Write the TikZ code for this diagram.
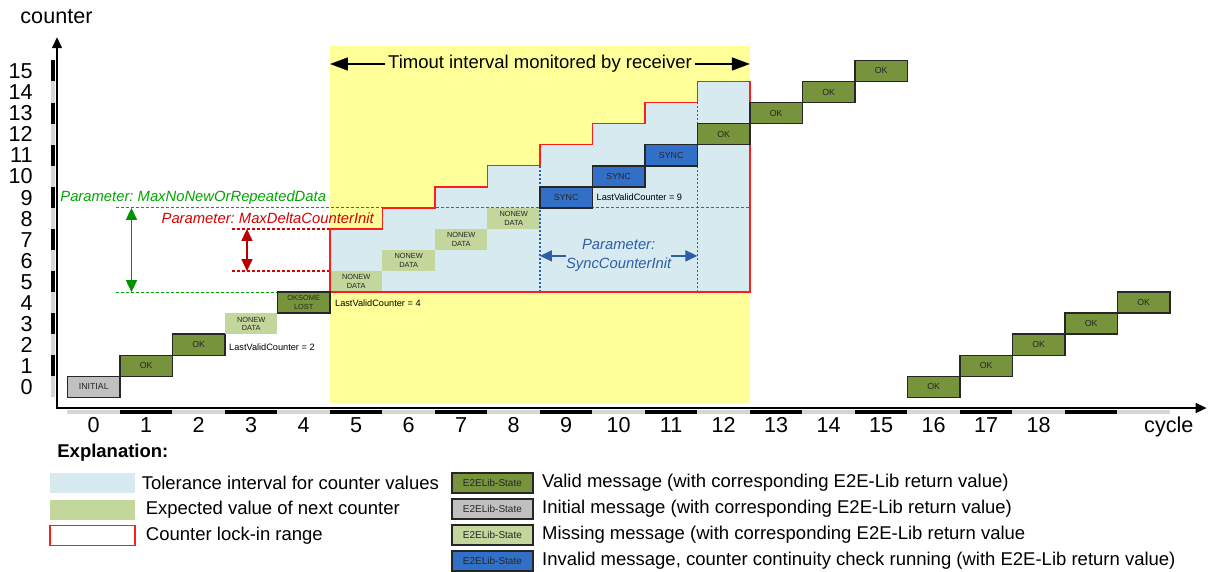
\documentclass[tikz,border=0pt]{standalone}
\usepackage{fontspec}
\setmainfont{Liberation Sans}
\usetikzlibrary{positioning,arrows.meta}

\definecolor{okgreen}{RGB}{119,147,60}
\definecolor{syncblue}{RGB}{50,112,200}
\definecolor{nonewgreen}{RGB}{195,214,155}
\definecolor{initgray}{RGB}{192,192,192}
\definecolor{tolblue}{RGB}{214,234,240}
\definecolor{timeyellow}{RGB}{255,255,153}
\definecolor{lockred}{RGB}{250,30,30}
\definecolor{parmgreen}{RGB}{0,165,0}
\definecolor{parmred}{RGB}{215,0,0}
\definecolor{parmblue}{RGB}{46,94,168}
\definecolor{bargray}{RGB}{214,214,214}

% staircase outline of the counter lock-in range
\newcommand{\lockstairs}{(4.5,4.5) -- (4.5,7.5)
  \foreach \k in {5,...,11} {-- (\k+0.5,\k+2.5) -- (\k+0.5,\k+3.5)}
  -- (12.5,14.5) -- (12.5,4.5) -- cycle}

\begin{document}
\frenchspacing
\begin{tikzpicture}[
  x=26.25pt, y=10.535pt,
  font=\fontsize{9.25}{11}\selectfont,
  msg/.style={rectangle, draw=black!85, line width=0.8pt, minimum width=26.25pt,
              minimum height=10.535pt, inner sep=0pt, text=black!85,
              font=\fontsize{4.4}{5}\selectfont},
  ok/.style={msg, fill=okgreen},
  sync/.style={msg, fill=syncblue},
  initial/.style={msg, fill=initgray},
  nonew/.style={msg, draw=none, fill=nonewgreen, align=center, font=\fontsize{3.7}{4.3}\selectfont},
  oksome/.style={ok, align=center, font=\fontsize{3.7}{4.3}\selectfont},
  axlbl/.style={inner sep=0pt, font=\fontsize{10.8}{12}\selectfont},
  axis/.style={line width=0.75pt, {Triangle[length=5.5pt,width=5pt]}-{Triangle[length=5.5pt,width=5pt]}},
  axbar/.style={line width=2pt},
  guide/.style={line width=0.6pt, dash pattern=on 1.5pt off 1pt},
  dblarr/.style={line width=0.8pt, {Triangle[length=6pt,width=5.5pt]}-{Triangle[length=6pt,width=5.5pt]}},
  timearr/.style={line width=0.8pt, {Triangle[length=9pt,width=6.5pt]}-{Triangle[length=9pt,width=6.5pt]}},
  parm/.style={font=\itshape\fontsize{7.4}{9.5}\selectfont, inner sep=0pt},
  lvc/.style={font=\fontsize{4.6}{5.5}\selectfont, inner sep=0pt},
  swatch/.style={minimum width=42.5pt, minimum height=10pt, inner sep=0pt},
  lgbox/.style={draw=black!85, line width=0.8pt, minimum width=40.5pt, minimum height=10pt,
                inner sep=0pt, text=black!85, font=\fontsize{5}{6}\selectfont},
]
\useasboundingbox (-1.7857,-8.781) rectangle (21.2262,18.367);

%% ---------- timeout window and lock-in range ----------
\fill[timeyellow] (4.5,-0.76) rectangle (12.5,16.18);
\fill[tolblue] \lockstairs;
\foreach \k in {5,...,8}
  \node[nonew] (nonew\k) at (\k,\k) {NONEW\\DATA};

%% ---------- parameter guides ----------
\coordinate (gtop) at (0.424,8.5);
\coordinate (gbot) at (0.424,4.5);
\coordinate (rtop) at (2.633,7.5);
\coordinate (rbot) at (2.633,5.5);
\draw[guide, parmgreen] (gtop) -- (12.5,8.5);
\draw[guide, parmgreen] (gbot) -- (4.5,4.5);
\draw[guide, parmred] (rtop) -- (4.5,7.5);
\draw[guide, parmred] (rbot) -- (4.5,5.5);
\draw[guide, parmblue, dash pattern=on 1pt off 1pt] (8.5,4.5) -- (8.5,11.5);
\draw[guide, parmblue, dash pattern=on 1pt off 1pt] (11.5,4.5) -- (11.5,13.5);

\draw[lockred, line width=0.75pt] \lockstairs;

%% ---------- messages ----------
\node[initial] (init0) at (0,0) {INITIAL};
\foreach \k in {1,2,12,13,14,15}
  \node[ok] (ok\k) at (\k,\k) {OK};
\node[nonew] (nonew3) at (3,3) {NONEW\\DATA};
\node[oksome] (oksome4) at (4,4) {OKSOME\\LOST};
\foreach \k in {9,10,11}
  \node[sync] (sync\k) at (\k,\k) {SYNC};
\foreach \k in {16,...,20}
  \node[ok] (ok\k) at (\k,\k-16) {OK};

\node[lvc, right=1.5pt of ok2, yshift=-1pt] (lvc2) {LastValidCounter = 2};
\node[lvc, right=2pt of oksome4.north east, anchor=north west, yshift=-4pt] (lvc4) {LastValidCounter = 4};
\node[lvc, right=1.5pt of sync9] (lvc9) {LastValidCounter = 9};

%% ---------- parameter arrows ----------
\node[parm, text=parmgreen, anchor=west] (maxnonew) at (-0.643,8.97) {Parameter: MaxNoNewOrRepeatedData};
\node[parm, text=parmred, anchor=west] (maxdelta) at (1.286,8.02) {Parameter: MaxDeltaCounterInit};
\draw[dblarr, parmgreen!90!black] (gbot -| 0.719,0) -- (gtop -| 0.719,0);
\draw[dblarr, parmred!85!black] (rbot -| 2.919,0) -- (rtop -| 2.919,0);

\coordinate (sL) at (8.5,6.22);
\coordinate (sR) at (11.5,6.22);
\draw[dblarr, parmblue] (sL) -- node[parm, fill=tolblue, text=parmblue, align=center] (synclbl) {Parameter:\\SyncCounterInit} (sR);

\coordinate (tL) at (4.5,15.33);
\coordinate (tR) at (12.5,15.33);
\draw[timearr] (tL) -- node[fill=timeyellow, inner sep=1.5pt] (timelbl) {Timout interval monitored by receiver} (tR);

%% ---------- axes ----------
\foreach \c in {0,2,...,14} \draw[axbar, bargray] (-0.767,\c-0.5) -- (-0.767,\c+0.5);
\foreach \c in {1,3,...,15} \draw[axbar, black] (-0.767,\c-0.5) -- (-0.767,\c+0.5);
\foreach \k in {0,2,...,20} \draw[axbar, bargray] (\k-0.5,-1.187) -- (\k+0.5,-1.187);
\foreach \k in {1,3,...,19} \draw[axbar, black] (\k-0.5,-1.187) -- (\k+0.5,-1.187);
\coordinate (orig) at (-0.7,-1);
\draw[axis] (-0.7,16.6) -- (orig) -- (21.2,-1);

\foreach \c in {0,...,15}
  \node[axlbl, anchor=base east] (yl\c) at (-1.157,\c-0.366) {\c};
\foreach \k in {0,...,18}
  \node[axlbl, anchor=base] (xl\k) at (\k,-2.183) {\k};
\node[axlbl] (ylab) at (-0.71,17.56) {counter};
\node[axlbl, anchor=base] (xlab) at (20.48,-2.183) {cycle};

%% ---------- legend ----------
\node[font=\bfseries\fontsize{9.25}{11}\selectfont, anchor=west, inner sep=0pt] (expl) at (-0.7,-3.13) {Explanation:};
\node[swatch, fill=tolblue] (lgtol) at (-0.024,-4.556) {};
\node[swatch, fill=nonewgreen, below=3pt of lgtol] (lgexp) {};
\node[swatch, draw=lockred, line width=0.6pt, below=2.4pt of lgexp] (lglock) {};
\node[inner sep=0pt, right=3pt of lgtol] {Tolerance interval for counter values};
\node[inner sep=0pt, right=5pt of lgexp] {Expected value of next counter};
\node[inner sep=0pt, right=5pt of lglock] {Counter lock-in range};

\node[lgbox, fill=okgreen] (lgok) at (7.595,-4.556) {E2ELib-State};
\node[lgbox, fill=initgray, below=2.2pt of lgok] (lginit) {E2ELib-State};
\node[lgbox, fill=nonewgreen, below=2.2pt of lginit] (lgmiss) {E2ELib-State};
\node[lgbox, fill=syncblue, below=2.2pt of lgmiss] (lgsync) {E2ELib-State};
\node[inner sep=0pt, right=4pt of lgok] {Valid message (with corresponding E2E-Lib return value)};
\node[inner sep=0pt, right=4pt of lginit] {Initial message (with corresponding E2E-Lib return value)};
\node[inner sep=0pt, right=4pt of lgmiss] {Missing message (with corresponding E2E-Lib return value};
\node[inner sep=0pt, right=4pt of lgsync] {Invalid message, counter continuity check running (with E2E-Lib return value)};

\end{tikzpicture}
\end{document}
